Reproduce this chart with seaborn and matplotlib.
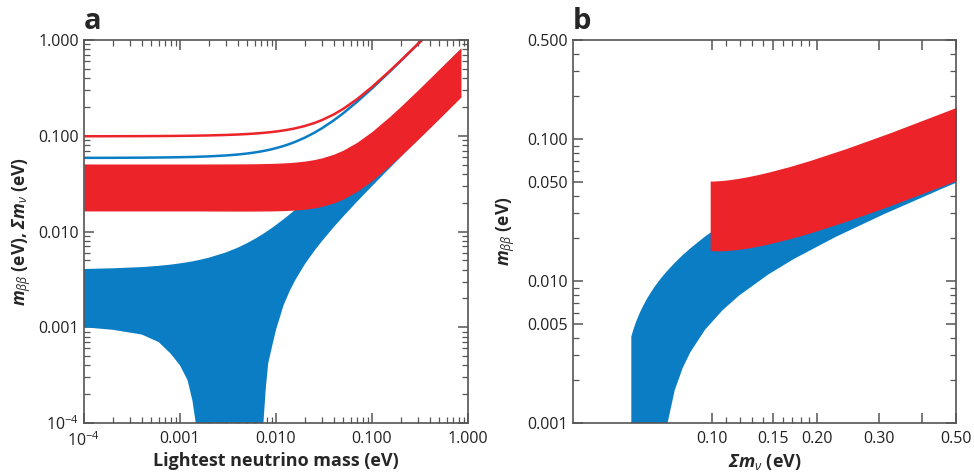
import numpy as np
import pandas as pd
import seaborn as sns
import matplotlib.pyplot as plt
from matplotlib.ticker import FixedLocator, NullFormatter

# lightest neutrino mass (eV), shared grid for both hierarchies
m_light = [1e-4, 2e-4, 4e-4, 6e-4, 8e-4, 1e-3, 1.2e-3, 1.35e-3, 1.46e-3, 1.5e-3,
           2e-3, 3e-3, 4e-3, 5e-3, 6e-3, 7e-3, 7.3e-3, 7.4e-3, 7.8e-3, 8.3e-3,
           9e-3, 0.01, 0.012, 0.014, 0.016, 0.02, 0.025, 0.03, 0.04, 0.05,
           0.07, 0.1, 0.15, 0.2, 0.3, 0.35, 0.5, 0.845]

# sum of neutrino masses (eV)
sum_nh = [0.05876, 0.05886, 0.05907, 0.05929, 0.0595, 0.05973, 0.05996, 0.06013, 0.06026, 0.06031,
          0.06093, 0.06226, 0.0637, 0.06525, 0.0669, 0.06862, 0.06916, 0.06934, 0.07006, 0.07098,
          0.07229, 0.07422, 0.07822, 0.08239, 0.08669, 0.09564, 0.10736, 0.11953, 0.14496, 0.17145,
          0.22655, 0.31217, 0.45836, 0.60635, 0.90426, 1.0537, 1.5026, 2.537]
sum_ih = [0.09884, 0.09894, 0.09914, 0.09935, 0.09956, 0.09976, 0.09997, 0.10012, 0.10024, 0.10029,
          0.10082, 0.10192, 0.10306, 0.10424, 0.10547, 0.10673, 0.10711, 0.10724, 0.10776, 0.10843,
          0.10937, 0.11074, 0.11361, 0.11663, 0.1198, 0.12653, 0.13568, 0.14554, 0.16708, 0.19053,
          0.24132, 0.32305, 0.46583, 0.61201, 0.90807, 1.05693, 1.5049, 2.538]

# m_bb band, normal hierarchy
nh_lo = [0.001, 0.00094, 0.00084, 0.0007, 0.00053, 0.0004, 0.00028, 0.00017, 0.0001, 1e-6,
         1e-6, 1e-6, 1e-6, 1e-6, 1e-6, 1e-6, 1e-6, 0.0001, 0.00022, 0.00042,
         0.0006, 0.00094, 0.0017, 0.00243, 0.00315, 0.00456, 0.00625, 0.0079, 0.01113, 0.0143,
         0.02053, 0.02976, 0.045, 0.06017, 0.09045, 0.10557, 0.1509, 0.2551]
nh_hi = [0.00406, 0.00413, 0.00425, 0.00438, 0.00451, 0.00465, 0.00478, 0.00488, 0.00496, 0.00498,
         0.00533, 0.00604, 0.00678, 0.00756, 0.00835, 0.00917, 0.00941, 0.00949, 0.00983, 0.01025,
         0.01084, 0.0117, 0.01344, 0.01521, 0.01701, 0.02065, 0.02525, 0.0299, 0.03927, 0.0487,
         0.06767, 0.09624, 0.144, 0.19183, 0.28755, 0.33543, 0.47909, 0.8096]

# m_bb band, inverted hierarchy
ih_lo = [0.0164, 0.0164, 0.0164, 0.0164, 0.0164, 0.0164, 0.0164, 0.0164, 0.0164, 0.0164,
         0.01636, 0.01635, 0.01634, 0.01634, 0.01635, 0.01636, 0.01637, 0.01637, 0.01638, 0.01639,
         0.01641, 0.01644, 0.01653, 0.01664, 0.01677, 0.0171, 0.01764, 0.0183, 0.0199, 0.0218,
         0.0263, 0.0339, 0.0477, 0.062, 0.0914, 0.1062, 0.1508, 0.254]
ih_hi = [0.0507, 0.0507, 0.0507, 0.0507, 0.0507, 0.0507, 0.0507, 0.0507, 0.0507, 0.0507,
         0.05074, 0.05079, 0.05086, 0.05094, 0.05105, 0.05117, 0.05121, 0.05123, 0.05128, 0.05136,
         0.05148, 0.05166, 0.05207, 0.05255, 0.0531, 0.0544, 0.05637, 0.0587, 0.0642, 0.0707,
         0.0856, 0.1108, 0.1564, 0.2034, 0.2998, 0.3485, 0.4951, 0.83]

BLUE = '#0a7dc4'
RED = '#ec2328'

sns.set_theme(style='ticks')
plt.rcParams.update({
    'font.family': ['Open Sans', 'DejaVu Sans'],
    'mathtext.fontset': 'custom',
    'mathtext.rm': 'Open Sans',
    'mathtext.it': 'Open Sans:italic',
    'mathtext.bf': 'Open Sans:bold',
    'mathtext.bfit': 'Open Sans:italic:bold',
    'axes.edgecolor': '#555555',
    'axes.linewidth': 1.2,
    'xtick.color': '#555555',
    'ytick.color': '#555555',
    'xtick.labelcolor': '#222222',
    'ytick.labelcolor': '#222222',
})

df = pd.DataFrame({'m': m_light, 'sum_nh': sum_nh, 'sum_ih': sum_ih,
                   'nh_lo': nh_lo, 'nh_hi': nh_hi, 'ih_lo': ih_lo, 'ih_hi': ih_hi})

fig = plt.figure(figsize=(9.74, 4.73), dpi=100)
ax_a = fig.add_axes([0.0862, 0.1057, 0.3943, 0.8097])
ax_b = fig.add_axes([0.5883, 0.1057, 0.3932, 0.8097])

#%% panel a
ax = ax_a
ax.set_xscale('log')
ax.set_yscale('log')
ax.fill_between(df['m'], df['nh_lo'], df['nh_hi'], color=BLUE, lw=0)
ax.fill_between(df['m'], df['ih_lo'], df['ih_hi'], color=RED, lw=0)
sns.lineplot(data=df, x='m', y='sum_nh', color=BLUE, lw=1.8, estimator=None, sort=False, ax=ax)
sns.lineplot(data=df, x='m', y='sum_ih', color=RED, lw=1.8, estimator=None, sort=False, ax=ax)
ax.set_xlim(1e-4, 1)
ax.set_ylim(1e-4, 1)
dec_labels = ['$10^{-4}$', '0.001', '0.010', '0.100', '1.000']
ax.set_xticks([1e-4, 1e-3, 1e-2, 1e-1, 1], labels=dec_labels)
ax.set_yticks([1e-4, 1e-3, 1e-2, 1e-1, 1], labels=dec_labels)
ax.xaxis.set_minor_formatter(NullFormatter())
ax.yaxis.set_minor_formatter(NullFormatter())
ax.set_xlabel('Lightest neutrino mass (eV)', fontsize=13, fontweight='bold')
ax.set_ylabel(r'$\mathbfit{m}_{\beta\beta}$ (eV), $\mathbfit{\Sigma m}_{\nu}$ (eV)',
              fontsize=12.5, fontweight='bold')
ax.xaxis.set_label_coords(0.5, -0.075)
ax.yaxis.set_label_coords(-0.133, 0.5)
ax.text(0.0, 1.03, 'a', transform=ax.transAxes, fontsize=21, fontweight='bold', va='baseline')

#%% panel b
ax = ax_b
ax.set_xscale('log')
ax.set_yscale('log')
ax.fill_between(df['sum_nh'], df['nh_lo'], df['nh_hi'], color=BLUE, lw=0)
ax.fill_between(df['sum_ih'], df['ih_lo'], df['ih_hi'], color=RED, lw=0)
ax.set_xlim(0.04, 0.5)
ax.set_ylim(0.001, 0.5)
ax.set_xticks([0.1, 0.15, 0.2, 0.3, 0.4, 0.5], labels=['0.10', '0.15', '0.20', '0.30', '', '0.50'])
ax.xaxis.set_minor_locator(FixedLocator([0.11, 0.12, 0.13, 0.14, 0.16, 0.17, 0.18, 0.19]))
ax.set_yticks([0.001, 0.005, 0.01, 0.05, 0.1, 0.5],
              labels=['0.001', '0.005', '0.010', '0.050', '0.100', '0.500'])
ax.yaxis.set_minor_locator(FixedLocator([0.002, 0.003, 0.004, 0.006, 0.007, 0.008, 0.009,
                                         0.02, 0.03, 0.04, 0.06, 0.07, 0.08, 0.09,
                                         0.2, 0.3, 0.4]))
ax.xaxis.set_minor_formatter(NullFormatter())
ax.yaxis.set_minor_formatter(NullFormatter())
ax.set_xlabel(r'$\mathbfit{\Sigma m}_{\nu}$ (eV)', fontsize=13, fontweight='bold')
ax.set_ylabel(r'$\mathbfit{m}_{\beta\beta}$ (eV)', fontsize=12.5, fontweight='bold')
ax.xaxis.set_label_coords(0.5, -0.075)
ax.yaxis.set_label_coords(-0.146, 0.5)
ax.text(0.0, 1.03, 'b', transform=ax.transAxes, fontsize=21, fontweight='bold', va='baseline')

for ax in (ax_a, ax_b):
    ax.tick_params(which='both', direction='in', top=True, right=True, labelsize=11.5)
    ax.tick_params(axis='x', which='major', pad=6)
    ax.tick_params(which='major', length=7, width=1.1)
    ax.tick_params(which='minor', length=4, width=0.9)
    for s in ax.spines.values():
        s.set_zorder(5)

fig.savefig('out.png', dpi=100)
